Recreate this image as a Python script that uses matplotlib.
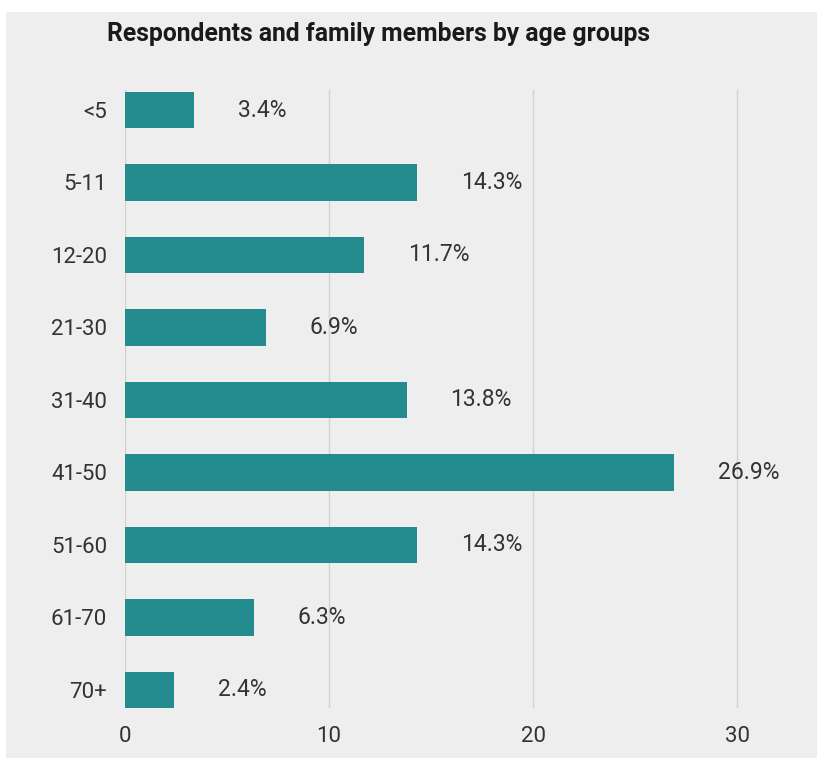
import matplotlib
matplotlib.use("Agg")
import matplotlib.pyplot as plt
from matplotlib.patches import Rectangle

categories = ["<5", "5-11", "12-20", "21-30", "31-40", "41-50", "51-60", "61-70", "70+"]
values = [3.4, 14.3, 11.7, 6.9, 13.8, 26.9, 14.3, 6.3, 2.4]
xticks = [0, 10, 20, 30]
title = "Respondents and family members by age groups"

plt.rcParams['font.family'] = ['Roboto', 'DejaVu Sans']

W, H = 817, 758
fig = plt.figure(figsize=(W/100, H/100), dpi=100)
fig.patch.set_facecolor("white")
fig.patches.append(Rectangle((6/W, 0), 1, 1 - 12/H, transform=fig.transFigure,
                             facecolor="#eeeeee", edgecolor="none", zorder=-10))

x0, x1 = 125, 125 + 33*20.4
y_top, y_bot = 90, 708
ax = fig.add_axes([x0/W, (H - y_bot)/H, (x1 - x0)/W, (y_bot - y_top)/H])
ax.set_facecolor("none")

ypos = list(range(len(categories)))
ax.barh(ypos, values, height=0.5, color="#238b8e", zorder=3)
for y, v in zip(ypos, values):
    ax.annotate(f"{v}%", (v, y), xytext=(44, 0), textcoords="offset pixels",
                ha="left", va="center", fontsize=16.5, color="#333333")

ax.set_xlim(0, 33)
ax.set_ylim(8.25, -0.276)
ax.set_yticks(ypos)
ax.set_yticklabels(categories)
ax.set_xticks(xticks)
ax.tick_params(axis="both", length=0, labelsize=16, labelcolor="#333333")
ax.tick_params(axis="y", pad=13)
ax.tick_params(axis="x", pad=13)
ax.grid(axis="x", color="#d2d2d2", linewidth=1, zorder=0)
for s in ax.spines.values():
    s.set_visible(False)

fig.text(107/W, 1 - 34/H, title, ha="left", va="center", fontsize=17.8,
         fontweight="bold", color="#1a1a1a")

fig.savefig("out.png", dpi=100)
